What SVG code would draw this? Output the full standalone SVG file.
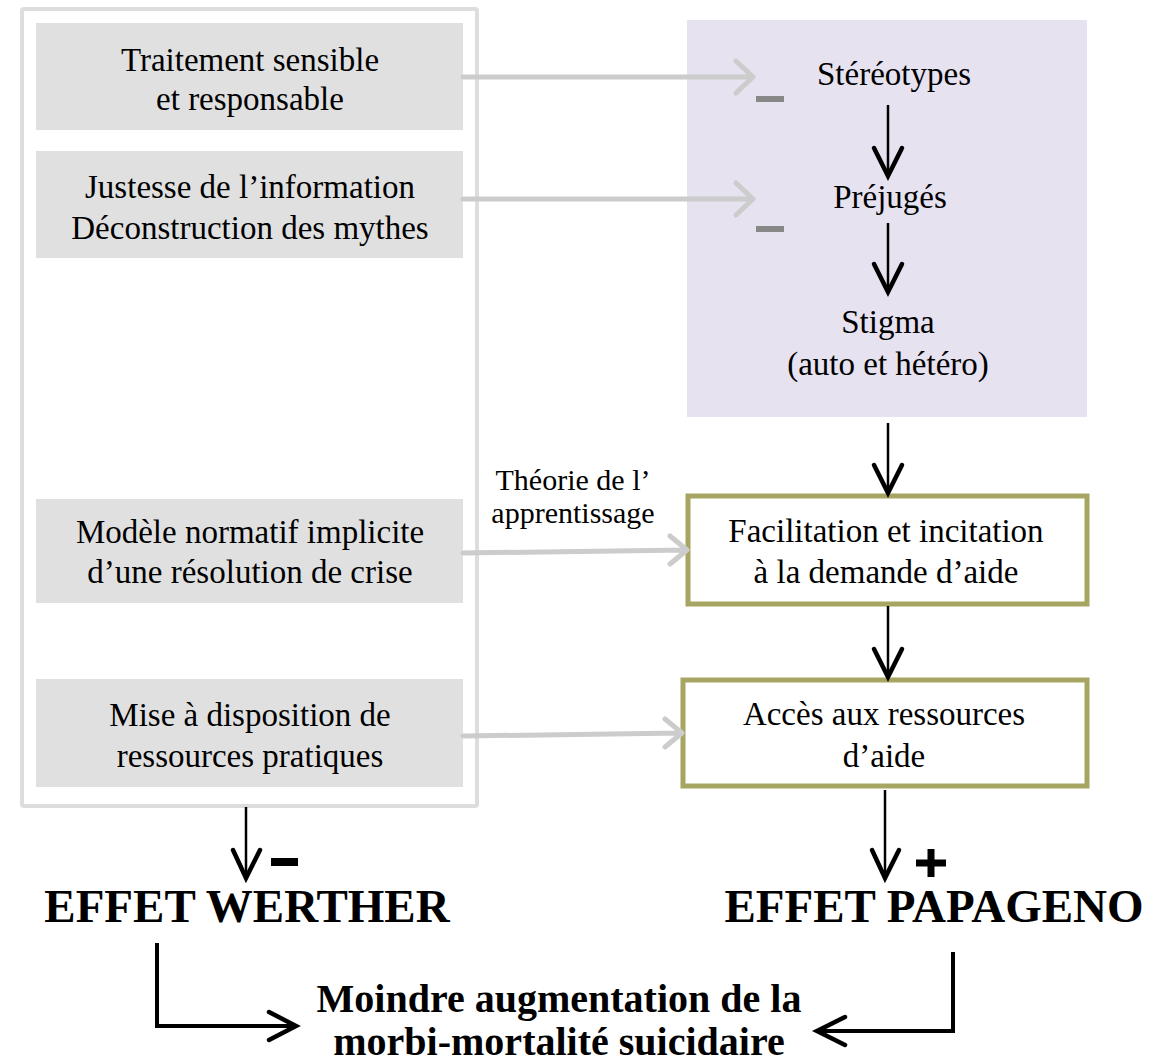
<svg xmlns="http://www.w3.org/2000/svg" width="1169" height="1064" viewBox="0 0 1169 1064">
<style>
.t{font-family:"Liberation Serif","Times New Roman",serif;font-size:33px;fill:#000;text-anchor:middle}
.s{font-size:30px}
.b{font-family:"Liberation Serif","Times New Roman",serif;font-weight:bold;fill:#000;text-anchor:middle}
.gbox{fill:#e0e0e0}
.obox{fill:#fff;stroke:#a6a562;stroke-width:5}
.gl{stroke:#cccccc;stroke-width:5;fill:none;stroke-linecap:round;stroke-linejoin:round}
.bl{stroke:#000;stroke-width:2.5;fill:none}
.bh{stroke:#000;stroke-width:4.5;fill:none;stroke-linecap:round;stroke-linejoin:miter}
.bt{stroke:#000;stroke-width:4;fill:none}
</style>
<rect width="1169" height="1064" fill="#fff"/>
<g id="frame"><rect x="22" y="9" width="455" height="797" rx="2" fill="#fff" stroke="#dddddd" stroke-width="4"/></g>
<g id="box-traitement"><rect class="gbox" x="36" y="23" width="427" height="107"/>
<text class="t" x="250" y="71">Traitement sensible</text><text class="t" x="250" y="110">et responsable</text></g>
<g id="box-justesse"><rect class="gbox" x="36" y="151" width="427" height="107"/>
<text class="t" x="250" y="198">Justesse de l’information</text><text class="t" x="250" y="239">Déconstruction des mythes</text></g>
<g id="box-modele"><rect class="gbox" x="36" y="499" width="427" height="104"/>
<text class="t" x="250" y="543">Modèle normatif implicite</text><text class="t" x="250" y="583">d’une résolution de crise</text></g>
<g id="box-mise"><rect class="gbox" x="36" y="679" width="427" height="108"/>
<text class="t" x="250" y="726">Mise à disposition de</text><text class="t" x="250" y="767">ressources pratiques</text></g>
<g id="stigma-panel"><rect x="687" y="20" width="400" height="397" fill="#e6e2f0"/>
<text class="t" x="894" y="85">Stéréotypes</text>
<text class="t" x="890" y="208">Préjugés</text>
<text class="t" x="888" y="333">Stigma</text>
<text class="t" x="888" y="375">(auto et hétéro)</text>
<rect x="756" y="96" width="28" height="6" fill="#888"/>
<rect x="756" y="226" width="28" height="6" fill="#888"/></g>
<g id="box-facilitation"><rect class="obox" x="688" y="496" width="399" height="108"/>
<text class="t" x="886" y="542">Facilitation et incitation</text><text class="t" x="886" y="583">à la demande d’aide</text></g>
<g id="box-acces"><rect class="obox" x="683" y="680" width="404" height="106"/>
<text class="t" x="884" y="725">Accès aux ressources</text><text class="t" x="884" y="767">d’aide</text></g>
<g id="label-theorie"><text class="t s" x="573" y="490">Théorie de l’</text><text class="t s" x="573" y="523">apprentissage</text></g>
<g id="effet-werther"><text class="b" x="247" y="922" font-size="47">EFFET WERTHER</text>
<rect x="271" y="858" width="27" height="8" fill="#000"/></g>
<g id="effet-papageno"><text class="b" x="934" y="922" font-size="47">EFFET PAPAGENO</text>
<path d="M916 863H946M931 849V877" stroke="#000" stroke-width="7" fill="none"/></g>
<g id="result"><text class="b" x="559" y="1012" font-size="40">Moindre augmentation de la</text>
<text class="b" x="559" y="1055" font-size="40">morbi-mortalité suicidaire</text></g>
<g id="connectors">
<path class="gl" d="M463 77H752M736 61L753 77L736 93"/>
<path class="gl" d="M463 199H752M736 183L753 199L736 215"/>
<path class="gl" d="M463 553L686 550M670 536L687 550L670 564"/>
<path class="gl" d="M463 736L681 733M665 719L682 733L665 747"/>
<path class="bl" d="M888 105V176"/><path class="bh" d="M874 148L888 176L902 148"/>
<path class="bl" d="M888 223V292"/><path class="bh" d="M874 264L888 292L902 264"/>
<path class="bl" d="M888 423V492"/><path class="bh" d="M874 465L888 493L902 465"/>
<path class="bl" d="M888 606V676"/><path class="bh" d="M874 649L888 677L902 649"/>
<path class="bl" d="M246 807V877"/><path class="bh" d="M233 850L246 878L260 850"/>
<path class="bl" d="M885 790V877"/><path class="bh" d="M872 850L885 878L899 850"/>
<path class="bt" d="M157 943V1026H294"/><path class="bh" d="M269 1012L296 1026L269 1040"/>
<path class="bt" d="M953 952V1031H819"/><path class="bh" d="M845 1017L817 1031L845 1045"/>
</g>
</svg>
